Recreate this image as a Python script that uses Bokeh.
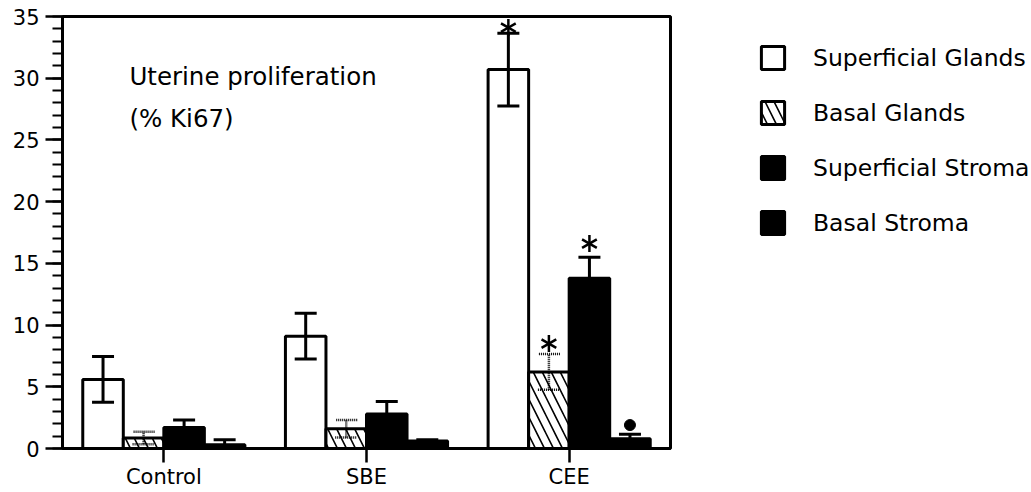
import numpy as np
from bokeh.plotting import figure
from bokeh.models import (ColumnDataSource, Whisker, TeeHead, Legend, LegendItem,
                          Label, SingleIntervalTicker, FixedTicker)
from bokeh.embed import file_html
from bokeh.resources import INLINE

# ---- data ----
groups = ["Control", "SBE", "CEE"]
series = ["Superficial Glands", "Basal Glands", "Superficial Stroma", "Basal Stroma"]
sup_glands = [5.6, 9.1, 30.7]
sup_glands_err = [1.85, 1.85, 2.95]
basal_glands = [0.85, 1.6, 6.2]
basal_glands_err = [0.5, 0.7, 1.45]
sup_stroma = [1.7, 2.8, 13.8]
sup_stroma_err = [0.6, 1.0, 1.7]
basal_stroma = [0.3, 0.6, 0.8]
basal_stroma_err = [0.4, 0.1, 0.35]

# significance marks: (group index, series index, y)
star_group = [2, 2, 2]
star_series = [0, 1, 2]
star_y = [34.1, 8.5, 16.6]
dot_group = [2]
dot_series = [3]
dot_y = [1.9]

y_ticks_interval = 5

# ---- figure ----
FONT = "DejaVu Sans"
p = figure(frame_width=608, frame_height=432, x_range=(-0.5, 2.5), y_range=(0, 35),
           output_backend="svg", toolbar_location=None,
           min_border_left=62, min_border_right=0, min_border_top=16,
           min_border_bottom=44)
p.background_fill_color = "white"
p.border_fill_color = "white"
p.outline_line_color = "black"
p.outline_line_width = 3
p.xgrid.visible = False
p.ygrid.visible = False

values = [sup_glands, basal_glands, sup_stroma, basal_stroma]
errors = [sup_glands_err, basal_glands_err, sup_stroma_err, basal_stroma_err]
offsets = [-0.3, -0.1, 0.1, 0.3]
fills = ["white", "white", "black", "black"]
hatches = [None, "\\", None, None]
bar_w = 0.2

gx = np.arange(len(groups), dtype=float)
renderers = []
for i in range(4):
    kw = dict(x=gx + offsets[i], top=values[i], bottom=0, width=bar_w,
              fill_color=fills[i], line_color="black", line_width=3)
    if hatches[i]:
        kw.update(hatch_pattern=hatches[i], hatch_color="black",
                  hatch_weight=1.6, hatch_scale=18)
    r = p.vbar(**kw)
    renderers.append(r)

for i in range(4):
    v = np.array(values[i]); e = np.array(errors[i])
    src = ColumnDataSource(dict(x=gx + offsets[i], upper=v + e, lower=v - e))
    dash = "1 1" if i == 1 else "solid"
    lw = 2.5 if i == 1 else 3
    w = Whisker(source=src, base="x", upper="upper", lower="lower", level="annotation",
                line_color="black", line_width=lw, line_dash=dash,
                upper_head=TeeHead(size=22, line_width=lw, line_dash=dash, line_color="black"),
                lower_head=TeeHead(size=22, line_width=lw, line_dash=dash, line_color="black"))
    p.add_layout(w)

# asterisks (6-armed) and dot
sx = [star_group[k] + offsets[star_series[k]] for k in range(len(star_y))]
for ang in [np.pi / 2, np.pi / 6, -np.pi / 6]:
    p.scatter(x=sx, y=star_y, marker="dash", size=17, angle=ang,
              line_color="black", line_width=2.5)
dx = [dot_group[k] + offsets[dot_series[k]] for k in range(len(dot_y))]
p.scatter(x=dx, y=dot_y, marker="circle", size=11, fill_color="black", line_color="black")

# text
p.add_layout(Label(x=-0.17, y=30.15, text="Uterine proliferation", text_font=FONT,
                   text_font_size="24.5px", text_baseline="alphabetic", text_color="black"))
p.add_layout(Label(x=-0.17, y=26.7, text="(% Ki67)", text_font=FONT,
                   text_font_size="24.5px", text_baseline="alphabetic", text_color="black"))

# axes
p.xaxis.ticker = FixedTicker(ticks=list(range(len(groups))))
p.xaxis.major_label_overrides = {i: g for i, g in enumerate(groups)}
p.xaxis.minor_tick_line_color = None
p.xaxis.major_tick_in = 0
p.xaxis.major_tick_out = 14
p.xaxis.major_tick_line_width = 2.5
p.xaxis.axis_line_width = 3
p.xaxis.major_label_standoff = 2
p.xaxis.major_label_text_font = FONT
p.xaxis.major_label_text_font_size = "21px"
p.xaxis.major_label_text_color = "black"

p.yaxis.ticker = SingleIntervalTicker(interval=y_ticks_interval, num_minor_ticks=5)
p.yaxis.major_tick_in = 0
p.yaxis.major_tick_out = 17
p.yaxis.minor_tick_in = 0
p.yaxis.minor_tick_out = 10
p.yaxis.major_tick_line_width = 2.5
p.yaxis.minor_tick_line_width = 2
p.yaxis.axis_line_width = 3
p.yaxis.major_label_standoff = 6
p.yaxis.major_label_text_font = FONT
p.yaxis.major_label_text_font_size = "21px"
p.yaxis.major_label_text_color = "black"

# legend
items = [LegendItem(label=series[i], renderers=[renderers[i]]) for i in range(4)]
legend = Legend(items=items, location=(88, 211), glyph_width=29, glyph_height=29,
                spacing=26, label_standoff=26, padding=0, margin=0,
                border_line_color=None, background_fill_alpha=0,
                label_text_font=FONT, label_text_font_size="23.5px",
                label_text_color="black")
p.add_layout(legend, "right")

open("out.html", "w").write(file_html(p, INLINE))
